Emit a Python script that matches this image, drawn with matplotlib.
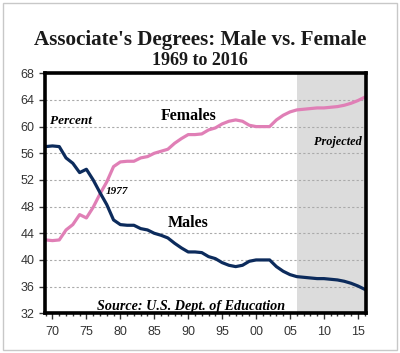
import matplotlib.pyplot as plt
from matplotlib.patches import Rectangle
from matplotlib.ticker import MultipleLocator

years = list(range(1969, 2017))
males = [57.0, 57.1, 57.0, 55.3, 54.5, 53.1, 53.6, 52.0, 50.1, 48.3,
         46.0, 45.3, 45.2, 45.2, 44.7, 44.5, 44.0, 43.7, 43.3, 42.5,
         41.8, 41.2, 41.2, 41.1, 40.5, 40.2, 39.6, 39.2, 39.0, 39.2,
         39.8, 40.0, 40.0, 40.0, 39.0, 38.3, 37.8, 37.5, 37.4, 37.3,
         37.2, 37.2, 37.1, 37.0, 36.8, 36.5, 36.1, 35.6]
females = [43.0, 42.9, 43.0, 44.5, 45.3, 46.8, 46.3, 47.9, 49.9, 51.7,
           54.0, 54.7, 54.8, 54.8, 55.3, 55.5, 56.0, 56.3, 56.6, 57.5,
           58.2, 58.8, 58.8, 58.9, 59.5, 59.8, 60.4, 60.8, 61.0, 60.8,
           60.2, 60.0, 60.0, 60.0, 61.0, 61.7, 62.2, 62.5, 62.6, 62.7,
           62.8, 62.8, 62.9, 63.0, 63.2, 63.5, 63.9, 64.4]
projected_start = 2006
x_ticks = [1970, 1975, 1980, 1985, 1990, 1995, 2000, 2005, 2010, 2015]
x_labels = ['70', '75', '80', '85', '90', '95', '00', '05', '10', '15']
y_ticks = [32, 36, 40, 44, 48, 52, 56, 60, 64, 68]

serif = 'Liberation Serif'
navy = '#0c2b5c'
pink = '#e07fb6'

fig = plt.figure(figsize=(4, 3.53), dpi=100)
fig.patches.append(Rectangle((0.008, 0.008), 0.984, 0.984, transform=fig.transFigure,
                             fill=False, edgecolor='#c8c8c8', linewidth=1))
ax = fig.add_axes([0.1125, 0.1125, 0.8025, 0.68])

ax.axvspan(projected_start, 2016.2, color='#dcdcdc', linewidth=0)
ax.plot(years, females, color=pink, linewidth=2.3)
ax.plot(years, males, color=navy, linewidth=2.3)

ax.set_xlim(1968.9, 2016.2)
ax.set_ylim(32, 68)
ax.set_xticks(x_ticks)
ax.set_xticklabels(x_labels)
ax.xaxis.set_minor_locator(MultipleLocator(1))
ax.set_yticks(y_ticks)
ax.tick_params(axis='both', labelsize=9, colors='#333333', length=4, width=1,
               direction='out')
ax.tick_params(axis='x', which='minor', length=2.5, width=1, colors='#333333')
ax.tick_params(axis='x', pad=5)
for lbl in ax.get_xticklabels() + ax.get_yticklabels():
    lbl.set_family('Liberation Sans')
ax.yaxis.grid(True, linestyle=(0, (2, 2)), color='#aaaaaa', linewidth=0.8)

for s in ax.spines.values():
    s.set_linewidth(2.6)
    s.set_color('black')

ax.text(1969.6, 60.4, 'Percent', family=serif, fontsize=9.5, fontweight='bold',
        style='italic')
ax.text(1990.0, 61.0, 'Females', family=serif, fontsize=11.5, fontweight='bold',
        ha='center')
ax.text(1990.0, 45.0, 'Males', family=serif, fontsize=11.5, fontweight='bold',
        ha='center')
ax.text(1977.9, 50.3, '1977', family=serif, fontsize=8, fontweight='bold',
        style='italic', va='center')
ax.text(2015.6, 57.3, 'Projected', family=serif, fontsize=8.8, fontweight='bold',
        style='italic', ha='right')
ax.text(1976.6, 32.5, 'Source: U.S. Dept. of Education', family=serif, fontsize=10.2,
        fontweight='bold', style='italic')

fig.text(0.5, 0.872, "Associate's Degrees: Male vs. Female", family=serif,
         fontsize=15.2, fontweight='bold', ha='center', color='#1a1a1a')
fig.text(0.5, 0.815, '1969 to 2016', family=serif, fontsize=13,
         fontweight='bold', ha='center', color='#1a1a1a')

fig.savefig('out.png', dpi=100)
